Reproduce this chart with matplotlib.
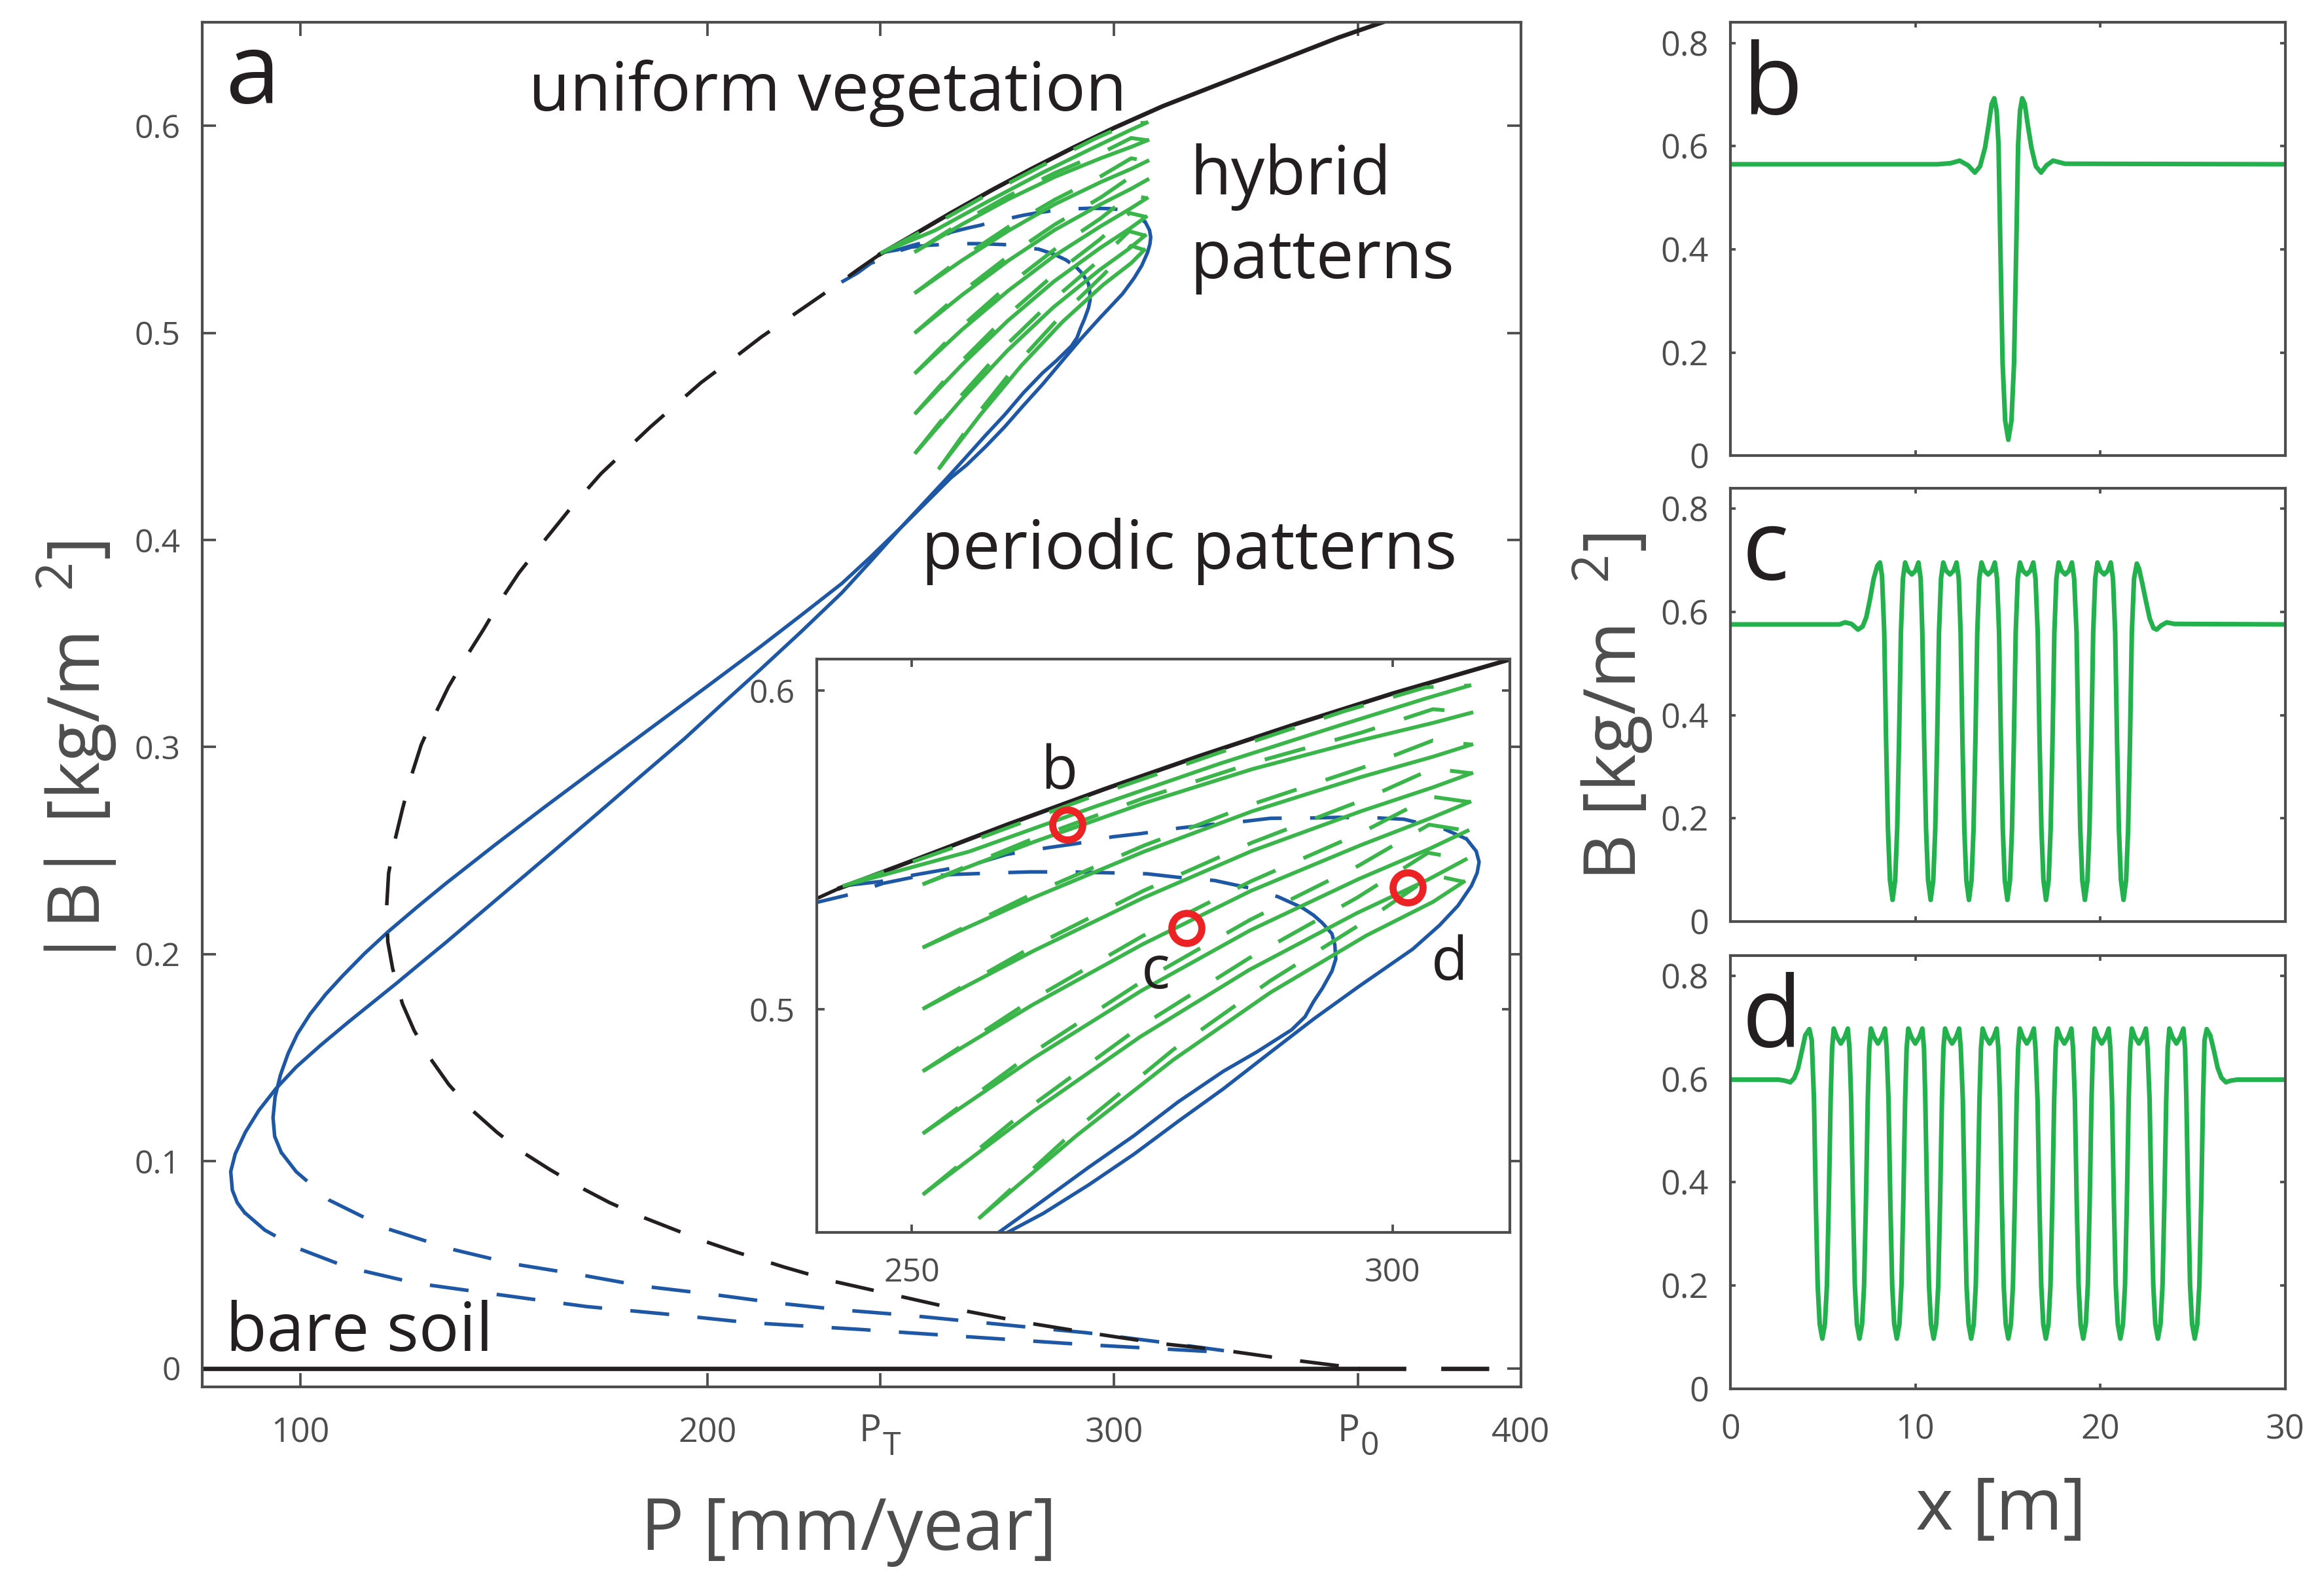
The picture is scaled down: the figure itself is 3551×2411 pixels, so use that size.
import matplotlib
matplotlib.use("Agg")
import matplotlib.pyplot as plt

plt.rcParams['font.family'] = ['Open Sans', 'DejaVu Sans']
plt.rcParams['mathtext.default'] = 'regular'

BLACK = '#231f20'
BLUE = '#1d57a6'
GREEN = '#39b54a'
PGREEN = '#22b14c'
RED = '#ed2224'
GREY = '#4d4d4d'
DASH = (11, 8)

## bifurcation diagram, panel a ##
# bare soil
bare_P = [75, 360]
bare_B = [0.0, 0.0]
bare_dash_P = [360, 400]
bare_dash_B = [0.0, 0.0]

# uniform vegetation, stable (from P_T up)
uni_P = [242.5, 250, 260, 270, 280, 290, 300, 312, 325, 340, 355, 366, 372]
uni_B = [0.538, 0.5465, 0.558, 0.569, 0.5795, 0.5895, 0.599, 0.6095, 0.6195, 0.631, 0.6425, 0.650, 0.654]
# uniform vegetation, unstable
uni_un_P = [242.5, 237.0, 231.7, 222.5, 213.3, 206.0, 198.5, 186.0, 173.9, 166.5, 159.7, 153.7,
            149.3, 145.1, 140.6, 136.4, 132.8, 129.7, 127.2, 125.1, 123.2, 121.7, 121.2, 121.5,
            122.7, 125.1, 128.0, 132.0, 136.5, 142.0, 148.3, 154.5, 161.3, 168.5, 176.0, 183.2,
            190.6, 198.8, 207.3, 219.0, 231.0, 246.8, 262.6, 278.4, 294.2, 311.1, 326.9, 343.8, 360.0]
uni_un_B = [0.538, 0.5305, 0.523, 0.5105, 0.498, 0.487, 0.476, 0.4545, 0.432, 0.4155, 0.399, 0.384,
            0.371, 0.357, 0.343, 0.329, 0.3145, 0.301, 0.2855, 0.270, 0.2545, 0.239, 0.222, 0.206,
            0.193, 0.176, 0.163, 0.1495, 0.137, 0.125, 0.114, 0.1045, 0.096, 0.0877, 0.080, 0.0737,
            0.068, 0.0617, 0.056, 0.0488, 0.042, 0.035, 0.028, 0.022, 0.017, 0.012, 0.0087, 0.004, 0.0]

# periodic pattern branch 1
per1_top_P = [243.0, 246.8, 250.0, 253.4, 256.9, 259.9, 264.2, 267.2, 270.9, 273.8, 277.7, 280.6,
              284.5, 287.3, 291.6, 294.4, 298.6, 301.2, 305.4, 307.7]
per1_top_B = [0.5388, 0.5401, 0.542, 0.5438, 0.5459, 0.5486, 0.5507, 0.552, 0.5541, 0.5551, 0.5568,
              0.5578, 0.5589, 0.5599, 0.56, 0.5602, 0.56, 0.5596, 0.5565, 0.5534]
per1_P = [307.7, 308.7, 309.0, 308.8, 308.2, 306.8, 304.9, 302.1, 298.8, 296.5, 291.8, 287.1, 282.4,
          277.7, 273.1, 268.4, 263.7, 259.9, 248.4, 240.0, 233.1, 223.0, 213.1, 199.8, 186.4, 173.0,
          159.7, 147.7, 135.7, 128.7, 121.7, 115.8, 110.4, 106.2, 102.4, 99.3, 97.0, 95.1, 93.8, 93.3,
          93.7, 95.3]
per1_B = [0.5534, 0.5496, 0.5462, 0.5428, 0.5387, 0.5325, 0.5264, 0.5189, 0.512, 0.5072, 0.497,
          0.4861, 0.4751, 0.4649, 0.4546, 0.445, 0.4361, 0.43, 0.4075, 0.3915, 0.379, 0.3635, 0.3485,
          0.329, 0.3095, 0.290, 0.2705, 0.2525, 0.234, 0.2227, 0.211, 0.2003, 0.1895, 0.1805, 0.171,
          0.1615, 0.152, 0.1415, 0.131, 0.121, 0.112, 0.1043]
per1_low_P = [95.3, 99.0, 107.1, 121.2, 137.0, 152.3, 168.6, 184.4, 200.8, 217.2, 233.5, 249.3,
              281.8, 293.0, 310.0, 327.0]
per1_low_B = [0.1043, 0.0949, 0.0812, 0.0675, 0.0576, 0.0504, 0.0452, 0.0396, 0.0358, 0.0315,
              0.0281, 0.0256, 0.0193, 0.0172, 0.013, 0.0085]

# periodic pattern branch 2
per2_top_P = [233.0, 237.0, 240.2, 243.8, 247.0, 250.1, 254.3, 259.0, 262.3, 266.5, 270.7, 274.5,
              277.7, 281.5, 285.2, 288.1, 290.6]
per2_top_B = [0.5245, 0.529, 0.5336, 0.5362, 0.5395, 0.5414, 0.5423, 0.5428, 0.5431, 0.5431,
              0.5428, 0.5425, 0.5414, 0.5404, 0.538, 0.5353, 0.5319]
per2_P = [290.6, 291.8, 292.7, 293.7, 294.0, 294.1, 293.7, 292.7, 291.8, 290.9, 289.5, 285.9, 282.4,
          277.7, 273.1, 268.4, 263.7, 259.0, 247.8, 240.0, 233.1, 223.0, 213.1, 203.7, 194.4, 183.7,
          173.1, 163.1, 153.1, 144.4, 135.7, 129.7, 123.7, 117.7, 111.7, 105.0, 99.0, 94.0, 89.8, 86.5,
          84.0, 82.9, 83.3, 84.5, 86.3]
per2_B = [0.5319, 0.5295, 0.5271, 0.5237, 0.5202, 0.5158, 0.512, 0.5066, 0.5025, 0.4977, 0.4936,
          0.4867, 0.4806, 0.471, 0.4604, 0.4505, 0.4402, 0.43, 0.4064, 0.3893, 0.3745, 0.3555, 0.3375,
          0.3208, 0.304, 0.286, 0.268, 0.2512, 0.2345, 0.220, 0.2055, 0.1958, 0.186, 0.1765, 0.167,
          0.156, 0.1455, 0.135, 0.1245, 0.114, 0.1035, 0.095, 0.086, 0.080, 0.0752]
per2_low_P = [86.3, 91.3, 99.2, 111.7, 128.6, 147.8, 170.3, 192.9, 209.8, 238.0, 250.5, 293.0, 327.0]
per2_low_B = [0.0752, 0.0667, 0.0581, 0.0487, 0.041, 0.0358, 0.0298, 0.0256, 0.0221, 0.0187,
              0.017, 0.0114, 0.0077]

# hybrid states: one P list per branch, solid (lower) and dashed (upper) halves
hyb_P = [
    [243.0, 256.0, 269.0, 282.0, 295.0, 303.5, 308.0],
    [251.3, 262.7, 274.1, 285.4, 296.8, 304.2, 308.2],
    [251.3, 262.7, 274.1, 285.4, 296.8, 304.2, 308.2],
    [251.3, 262.7, 274.1, 285.4, 296.8, 304.2, 308.2],
    [251.3, 262.6, 274.0, 285.3, 296.7, 304.0, 308.0],
    [251.3, 262.6, 273.9, 285.2, 296.5, 303.8, 307.8],
    [251.3, 262.6, 273.8, 285.1, 296.3, 303.7, 307.6],
    [257.1, 267.2, 277.2, 287.3, 297.3, 304.2, 307.4],
]
hyb_solid = [
    [0.5388, 0.5495, 0.5635, 0.577, 0.5895, 0.5975, 0.6015],
    [0.5394, 0.5525, 0.5646, 0.5753, 0.5844, 0.5898, 0.593],
    [0.5196, 0.5351, 0.5494, 0.5621, 0.5729, 0.5792, 0.583],
    [0.5004, 0.5184, 0.535, 0.5497, 0.5622, 0.5696, 0.574],
    [0.4809, 0.5015, 0.5204, 0.5372, 0.5515, 0.56, 0.565],
    [0.4614, 0.4846, 0.5059, 0.5248, 0.5409, 0.5503, 0.556],
    [0.4423, 0.468, 0.4915, 0.5124, 0.5302, 0.5407, 0.547],
    [0.4348, 0.4606, 0.4842, 0.5053, 0.5232, 0.5337, 0.54],
]
hyb_dash = [
    [0.5388, 0.5525, 0.567, 0.5805, 0.5935, 0.601, 0.6015],
    [0.5394, 0.5536, 0.5662, 0.5772, 0.5868, 0.5941, 0.593],
    [0.5196, 0.5364, 0.5513, 0.5643, 0.5757, 0.5843, 0.583],
    [0.5004, 0.5199, 0.5372, 0.5523, 0.5655, 0.5755, 0.574],
    [0.4809, 0.5032, 0.523, 0.5402, 0.5553, 0.5667, 0.565],
    [0.4614, 0.4865, 0.5087, 0.5281, 0.5451, 0.5579, 0.556],
    [0.4423, 0.4701, 0.4947, 0.5161, 0.535, 0.5491, 0.547],
    [0.4348, 0.4627, 0.4874, 0.509, 0.5279, 0.5421, 0.54],
]

# marked solutions (b, c, d)
mark_P = [266.2, 278.6, 301.6]
mark_B = [0.5578, 0.5255, 0.5382]
mark_lbl = ['b', 'c', 'd']
mark_lbl_P = [265.3, 275.4, 305.9]
mark_lbl_B = [0.5691, 0.5066, 0.5093]

xtick_a = [100, 200, 242.5, 300, 360, 400]
xtick_a_lbl = ['100', '200', '', '300', '', '400']
# symbolic ticks P_T and P_0 (main letter, subscript)
sym_tick_P = [242.5, 360]
sym_tick_sub = ['T', '0']
ytick_a = [0, 0.1, 0.2, 0.3, 0.4, 0.5, 0.6]
ytick_a_lbl = ['0', '0.1', '0.2', '0.3', '0.4', '0.5', '0.6']

## spatial profiles, panels b-d ##
b_x = [0, 11.2, 11.9, 12.4, 12.85, 13.22, 13.5, 13.77, 13.97, 14.13, 14.27, 14.40, 14.50, 14.60,
       14.72, 14.86, 15.03, 15.20, 15.34, 15.46, 15.56, 15.66, 15.78, 15.92, 16.08, 16.28, 16.52,
       16.80, 17.10, 17.45, 18.1, 30]
b_B = [0.565, 0.565, 0.567, 0.572, 0.563, 0.549, 0.561, 0.597, 0.642, 0.682, 0.693, 0.668, 0.603,
       0.406, 0.180, 0.068, 0.031, 0.068, 0.180, 0.406, 0.603, 0.668, 0.693, 0.682, 0.642, 0.597,
       0.561, 0.549, 0.563, 0.572, 0.566, 0.565]

c_cell_B = [0.56, 0.35, 0.18, 0.08, 0.042, 0.08, 0.18, 0.35, 0.56, 0.665, 0.696, 0.68, 0.673, 0.68,
            0.696, 0.665]
c_x = [0, 5.9, 6.2, 6.55, 6.9, 7.15, 7.35, 7.55, 7.75, 7.95, 8.09, 8.20,
       8.32, 8.42, 8.52, 8.63, 8.77, 8.91, 9.02, 9.12, 9.22, 9.33, 9.45, 9.61, 9.81, 10.01, 10.17, 10.29,
       10.38, 10.48, 10.58, 10.69, 10.83, 10.97, 11.08, 11.18, 11.28, 11.39, 11.51, 11.67, 11.87, 12.07, 12.23, 12.35,
       12.45, 12.55, 12.65, 12.76, 12.90, 13.04, 13.15, 13.25, 13.35, 13.46, 13.58, 13.74, 13.94, 14.14, 14.30, 14.42,
       14.53, 14.63, 14.73, 14.84, 14.98, 15.12, 15.23, 15.33, 15.43, 15.54, 15.66, 15.82, 16.02, 16.22, 16.38, 16.50,
       16.62, 16.72, 16.82, 16.93, 17.07, 17.21, 17.32, 17.42, 17.52, 17.63, 17.75, 17.91, 18.11, 18.31, 18.47, 18.59,
       18.72, 18.82, 18.92, 19.03, 19.17, 19.31, 19.42, 19.52, 19.62, 19.73, 19.85, 20.01, 20.21, 20.41, 20.57, 20.69,
       20.81, 20.91, 21.01, 21.12, 21.26, 21.40, 21.51, 21.61, 21.71,
       21.83, 21.98, 22.10, 22.28, 22.48, 22.68, 22.88, 23.05, 23.3, 23.6, 24.0, 30]
c_B = ([0.576, 0.576, 0.58, 0.577, 0.566, 0.572, 0.59, 0.625, 0.665, 0.69, 0.696, 0.67]
       + c_cell_B * 6 + c_cell_B[:9]
       + [0.665, 0.694, 0.684, 0.655, 0.62, 0.587, 0.569, 0.566, 0.574, 0.58, 0.577, 0.576])

d_cell_B = [0.56, 0.36, 0.20, 0.125, 0.097, 0.125, 0.20, 0.36, 0.56, 0.66, 0.698, 0.682, 0.669,
            0.682, 0.698, 0.66]
d_x = [0, 2.6, 2.95, 3.24, 3.45, 3.65, 3.85, 4.05, 4.27, 4.40,
       4.52, 4.62, 4.72, 4.83, 4.97, 5.11, 5.22, 5.32, 5.42, 5.50, 5.59, 5.75, 5.97, 6.19, 6.35, 6.44,
       6.53, 6.63, 6.73, 6.84, 6.98, 7.12, 7.23, 7.33, 7.43, 7.51, 7.60, 7.76, 7.98, 8.20, 8.36, 8.45,
       8.55, 8.65, 8.75, 8.86, 9.00, 9.14, 9.25, 9.35, 9.45, 9.53, 9.62, 9.78, 10.00, 10.22, 10.38, 10.47,
       10.54, 10.64, 10.74, 10.85, 10.99, 11.13, 11.24, 11.34, 11.44, 11.52, 11.61, 11.77, 11.99, 12.21, 12.37, 12.46,
       12.57, 12.67, 12.77, 12.88, 13.02, 13.16, 13.27, 13.37, 13.47, 13.55, 13.64, 13.80, 14.02, 14.24, 14.40, 14.49,
       14.58, 14.68, 14.78, 14.89, 15.03, 15.17, 15.28, 15.38, 15.48, 15.56, 15.65, 15.81, 16.03, 16.25, 16.41, 16.50,
       16.61, 16.71, 16.81, 16.92, 17.06, 17.20, 17.31, 17.41, 17.51, 17.59, 17.68, 17.84, 18.06, 18.28, 18.44, 18.53,
       18.63, 18.73, 18.83, 18.94, 19.08, 19.22, 19.33, 19.43, 19.53, 19.61, 19.70, 19.86, 20.08, 20.30, 20.46, 20.55,
       20.64, 20.74, 20.84, 20.95, 21.09, 21.23, 21.34, 21.44, 21.54, 21.62, 21.71, 21.87, 22.09, 22.31, 22.47, 22.56,
       22.67, 22.77, 22.87, 22.98, 23.12, 23.26, 23.37, 23.47, 23.57, 23.65, 23.74, 23.90, 24.12, 24.34, 24.50, 24.59,
       24.66, 24.76, 24.86, 24.97, 25.11, 25.25, 25.36, 25.46, 25.56,
       25.64, 25.76, 25.95, 26.15, 26.35, 26.55, 26.8, 27.05, 27.4, 30]
d_B = ([0.599, 0.599, 0.597, 0.594, 0.602, 0.62, 0.652, 0.685, 0.697, 0.675]
       + d_cell_B * 10 + d_cell_B[:9]
       + [0.675, 0.697, 0.685, 0.655, 0.622, 0.603, 0.594, 0.597, 0.599, 0.599])

profiles = [(b_x, b_B, 'b'), (c_x, c_B, 'c'), (d_x, d_B, 'd')]
ytick_p = [0, 0.2, 0.4, 0.6, 0.8]
ytick_p_lbl = ['0', '0.2', '0.4', '0.6', '0.8']
xtick_p = [0, 10, 20, 30]


def style(a, ticklen, fs=12, xpad=9):
    a.tick_params(direction='in', top=True, right=True, length=ticklen, width=0.9,
                  colors=GREY, labelsize=fs, pad=8)
    a.tick_params(axis='x', pad=xpad)
    for s in a.spines.values():
        s.set_color(GREY)
        s.set_linewidth(1.0)


def diagram(a):
    a.plot(bare_P, bare_B, color=BLACK, lw=1.6)
    a.plot(bare_dash_P, bare_dash_B, color=BLACK, lw=1.6, dashes=DASH)
    a.plot(per1_top_P, per1_top_B, color=BLUE, lw=1.3, dashes=DASH)
    a.plot(per1_P, per1_B, color=BLUE, lw=1.3)
    a.plot(per1_low_P, per1_low_B, color=BLUE, lw=1.3, dashes=DASH)
    a.plot(per2_top_P, per2_top_B, color=BLUE, lw=1.3, dashes=DASH)
    a.plot(per2_P, per2_B, color=BLUE, lw=1.3)
    a.plot(per2_low_P, per2_low_B, color=BLUE, lw=1.3, dashes=DASH)
    a.plot(uni_un_P, uni_un_B, color=BLACK, lw=1.3, dashes=DASH)
    a.plot(uni_P, uni_B, color=BLACK, lw=1.6)
    for k in range(len(hyb_P)):
        a.plot(hyb_P[k], hyb_solid[k], color=GREEN, lw=1.4)
        a.plot(hyb_P[k], hyb_dash[k], color=GREEN, lw=1.4, dashes=DASH)


fig = plt.figure(figsize=(3551 / 300, 2411 / 300), dpi=300)

# main panel
ax = fig.add_axes([0.08702, 0.12111, 0.56745, 0.86479])
diagram(ax)
ax.set_xlim(75.9, 400)
ax.set_ylim(-0.009, 0.65)
ax.set_xticks(xtick_a)
ax.set_xticklabels(xtick_a_lbl)
ax.set_yticks(ytick_a)
ax.set_yticklabels(ytick_a_lbl)
style(ax, 5, fs=12.5, xpad=11)
ax.tick_params(axis='y', labelsize=12)

for p, sub in zip(sym_tick_P, sym_tick_sub):
    ax.annotate('P', xy=(p, 0), xycoords=ax.get_xaxis_transform(), xytext=(-3.6, -9.5),
                textcoords='offset points', ha='center', va='top', fontsize=13.5, color=GREY)
    ax.annotate(sub, xy=(p, 0), xycoords=ax.get_xaxis_transform(), xytext=(4.2, -16.0),
                textcoords='offset points', ha='center', va='top', fontsize=12, color=GREY)

txt = dict(color=BLACK, fontsize=24.6, va='baseline', transform=ax.transAxes)
ax.text(0.0174, 0.9405, 'a', **{**txt, 'fontsize': 36})
ax.text(0.2476, 0.9353, 'uniform vegetation', **txt)
ax.text(0.749, 0.8739, 'hybrid', **txt)
ax.text(0.749, 0.8127, 'patterns', **txt)
ax.text(0.5454, 0.5995, 'periodic patterns', **txt)
ax.text(0.0179, 0.0264, 'bare soil', **txt)

fig.text(0.3652, 0.0179, 'P [mm/year]', fontsize=26.5, color=GREY, ha='center', va='baseline')
fig.text(0.033, 0.522, r'|B| [kg/m  $^{2}$]', fontsize=26.5, color=GREY, rotation=90,
         ha='center', va='center')

# inset
axi = fig.add_axes([0.35134, 0.21879, 0.29834, 0.36354])
axi.set_facecolor('white')
diagram(axi)
axi.plot(mark_P, mark_B, 'o', ms=11, mew=2.6, mfc='none', mec=RED)
for lbl, p, b in zip(mark_lbl, mark_lbl_P, mark_lbl_B):
    axi.text(p, b, lbl, fontsize=22, color=BLACK, ha='center', va='baseline')
axi.set_xlim(240.1, 312.2)
axi.set_ylim(0.43, 0.6098)
axi.set_xticks([250, 300])
axi.set_xticklabels(['250', '300'])
axi.set_yticks([0.5, 0.6])
axi.set_yticklabels(['0.5', '0.6'])
style(axi, 2.8)

# profiles
bottoms = [0.7112, 0.4160, 0.1200]
for (xs, bs, lbl), bot in zip(profiles, bottoms):
    axp = fig.add_axes([0.74458, bot, 0.23869, 0.2746])
    axp.plot(xs, bs, color=PGREEN, lw=1.7)
    axp.set_xlim(0, 30)
    axp.set_ylim(0, 0.84)
    axp.set_yticks(ytick_p)
    axp.set_yticklabels(ytick_p_lbl)
    axp.set_xticks(xtick_p)
    if lbl != 'd':
        axp.set_xticklabels([])
    style(axp, 2, fs=12.5)
    axp.text(0.021, 0.788, lbl, fontsize=36, color=BLACK, va='baseline', transform=axp.transAxes)

fig.text(0.694, 0.552, r'B [kg/m  $^{2}$]', fontsize=26.5, color=GREY, rotation=90,
         ha='center', va='center')
fig.text(0.861, 0.0307, 'x [m]', fontsize=26.5, color=GREY, ha='center', va='baseline')

fig.savefig('out.png', dpi=300, facecolor='white')
